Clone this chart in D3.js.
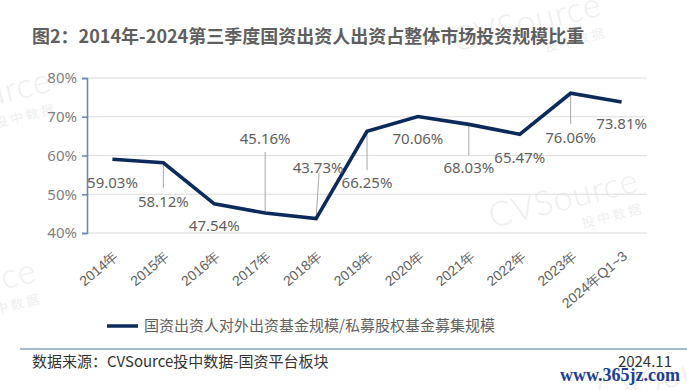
<!DOCTYPE html>
<html><head><meta charset="utf-8">
<script src="https://cdn.jsdelivr.net/npm/d3@7/dist/d3.min.js"></script>
<style>
html,body{margin:0;padding:0;background:#fff;}
svg{display:block;font-family:"Noto Sans CJK SC","Noto Sans",sans-serif;}
</style></head>
<body><svg id="c" width="687" height="390"></svg>
<script>
const categories = ["2014年","2015年","2016年","2017年","2018年","2019年","2020年","2021年","2022年","2023年","2024年Q1~3"];
const values = [59.03, 58.12, 47.54, 45.16, 43.73, 66.25, 70.06, 68.03, 65.47, 76.06, 73.81];
const yTicks = [40, 50, 60, 70, 80];
const seriesName = "国资出资人对外出资基金规模/私募股权基金募集规模";
const titleText = "图2：2014年-2024第三季度国资出资人出资占整体市场投资规模比重";
const sourceText = "数据来源：CVSource投中数据-国资平台板块";
const dateText = "2024.11";
// label layout (px offsets of label centre from point; leader line end)
const labelDy = [23, 39, 22, -74, -51, 51, 22, 43, 23, 44, 22];
const leaderDy = [0, 25, 0, -61, -46, 39, 0, 31, 0, 31, 0];

const svg = d3.select("#c");
const W = 687, H = 390;
const m = {left: 87, right: 647, top: 78, bottom: 233};
const navy = "#0c2b5c";

// watermarks
function wm(x, y, rot, size) {
  const g = svg.append("g").attr("transform", `translate(${x},${y}) rotate(${rot})`).attr("fill", "#efefef");
  g.append("text").attr("font-family", "Lato, 'Open Sans', sans-serif").attr("font-size", size).attr("font-weight", 300)
    .attr("letter-spacing", 1).text("CVSource");
  g.append("text").attr("x", size * 2.6).attr("y", size * 0.65).attr("font-size", size * 0.38).attr("letter-spacing", 3).text("投中数据");
}
wm(492, 228, -14, 34);
wm(-95, 128, -14, 34);
wm(-110, 318, -14, 34);
wm(455, 52, -14, 34);
wm(600, 405, -14, 34);

const x = d3.scalePoint().domain(categories).range([m.left, m.right]).padding(0.5);
const y = d3.scaleLinear().domain([40, 80]).range([m.bottom, m.top]);

// title
svg.append("text").attr("x", 32).attr("y", 43).attr("font-size", 18).attr("font-weight", 700)
  .attr("fill", "#5f5f5f").text(titleText);

// gridlines
svg.append("g").selectAll("line").data(yTicks).join("line")
  .attr("x1", m.left).attr("x2", m.right)
  .attr("y1", d => y(d)).attr("y2", d => y(d))
  .attr("stroke", "#dcdcdc").attr("stroke-width", 1.2);

// y axis
const yAxis = d3.axisLeft(y).tickValues(yTicks).tickFormat(d => d + "%").tickSize(5).tickPadding(5);
const ya = svg.append("g").attr("transform", `translate(${m.left},0)`).call(yAxis);
ya.select(".domain").attr("stroke", "#6f89b1").attr("stroke-width", 1.6);
ya.selectAll(".tick line").attr("stroke", "#6f89b1").attr("stroke-width", 1.6);
ya.selectAll(".tick text").attr("font-size", 15).attr("fill", "#7f7f7f").attr("font-family", "'Noto Sans', sans-serif");

// x labels
const xa = svg.append("g").attr("transform", `translate(0,${m.bottom})`)
  .call(d3.axisBottom(x).tickSize(0).tickPadding(0));
xa.select(".domain").remove();
xa.selectAll(".tick text")
  .attr("font-size", 14).attr("fill", "#5f5f5f").attr("text-anchor", "end")
  .attr("transform", "translate(3,21) rotate(-40)").attr("dy", "0.35em").attr("y", 0);

// leader lines
const pts = categories.map((c, i) => ({c, v: values[i], i}));
svg.append("g").selectAll("line").data(pts.filter(d => leaderDy[d.i] !== 0)).join("line")
  .attr("x1", d => x(d.c)).attr("y1", d => y(d.v))
  .attr("x2", d => x(d.c) + (d.i === 4 ? 3 : 0)).attr("y2", d => y(d.v) + leaderDy[d.i])
  .attr("stroke", "#a8a8a8").attr("stroke-width", 1);

// line
svg.append("path").datum(pts)
  .attr("d", d3.line().x(d => x(d.c)).y(d => y(d.v)))
  .attr("fill", "none").attr("stroke", navy).attr("stroke-width", 3.6).attr("stroke-linejoin", "miter");

// data labels
svg.append("g").selectAll("text").data(pts).join("text")
  .attr("x", d => x(d.c) + (d.i === 4 ? 2 : 0)).attr("y", d => y(d.v) + labelDy[d.i])
  .attr("text-anchor", "middle").attr("dy", "0.36em")
  .attr("font-size", 15).attr("fill", "#5f5f5f").attr("font-family", "'Noto Sans', sans-serif")
  .text(d => d.v.toFixed(2) + "%");

// legend
svg.append("line").attr("x1", 107).attr("x2", 138).attr("y1", 326).attr("y2", 326)
  .attr("stroke", navy).attr("stroke-width", 3.5);
svg.append("text").attr("x", 144).attr("y", 326).attr("dy", "0.35em").attr("font-size", 15)
  .attr("fill", "#5f5f5f").text(seriesName);

// separator
svg.append("line").attr("x1", 20).attr("x2", W).attr("y1", 349).attr("y2", 349)
  .attr("stroke", "#a9b9cf").attr("stroke-width", 2);

// footer
svg.append("text").attr("x", 32).attr("y", 362).attr("dy", "0.35em").attr("font-size", 15)
  .attr("fill", "#333").text(sourceText);
svg.append("text").attr("x", 672).attr("y", 362).attr("dy", "0.35em").attr("font-size", 15)
  .attr("text-anchor", "end").attr("fill", "#333").text(dateText);
svg.append("text").attr("x", 680).attr("y", 381).attr("font-size", 18).attr("font-weight", 700)
  .attr("text-anchor", "end").attr("fill", "#1d3e93").attr("font-family", "'Liberation Serif', serif").text("www.365jz.com");
</script></body></html>
